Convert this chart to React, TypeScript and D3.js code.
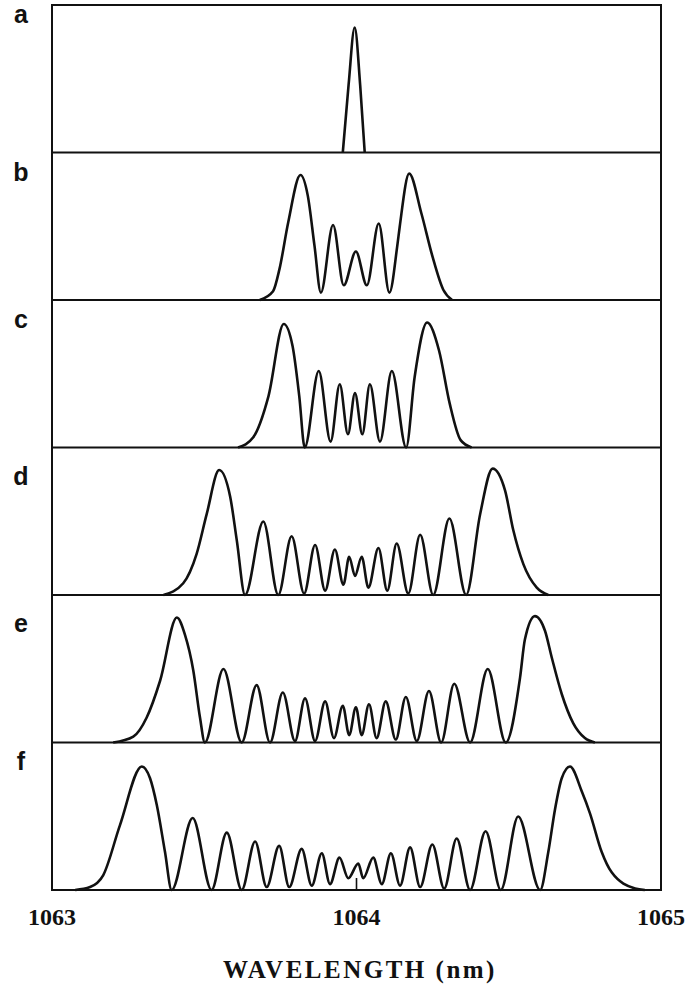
import React from "react";
import * as d3 from "d3";

// ---------- DATA (wavelength in nm, relative intensity 0..1) ----------
const X_TICKS = [1063, 1064, 1065];
const X_DOMAIN: [number, number] = [1063, 1065];
const PANEL_LABELS = ["a", "b", "c", "d", "e", "f"];
const AXIS_TITLE = "WAVELENGTH (nm)";

const spectrumA: [number, number][] = [
  [1063.955, 0], [1063.974, 0.46], [1063.994, 0.85], [1064.012, 0.46], [1064.027, 0],
];

const spectrumB: [number, number][] = [
  [1063.682, 0], [1063.726, 0.06], [1063.747, 0.21], [1063.776, 0.53], [1063.816, 0.85],
  [1063.840, 0.71], [1063.862, 0.37], [1063.883, 0.05], [1063.923, 0.51], [1063.958, 0.10],
  [1063.998, 0.33], [1064.034, 0.10], [1064.073, 0.52], [1064.108, 0.05], [1064.134, 0.37],
  [1064.142, 0.50], [1064.173, 0.86], [1064.213, 0.59], [1064.249, 0.30], [1064.285, 0.07],
  [1064.314, 0],
];

const spectrumC: [number, number][] = [
  [1063.611, 0], [1063.661, 0.07], [1063.711, 0.35], [1063.761, 0.84], [1063.790, 0.69],
  [1063.812, 0.35], [1063.830, 0], [1063.876, 0.52], [1063.915, 0.04], [1063.945, 0.43],
  [1063.972, 0.09], [1063.995, 0.37], [1064.019, 0.09], [1064.044, 0.43], [1064.077, 0.04],
  [1064.116, 0.52], [1064.163, 0], [1064.191, 0.48], [1064.232, 0.85], [1064.271, 0.66],
  [1064.306, 0.30], [1064.342, 0.05], [1064.378, 0],
];

const spectrumD: [number, number][] = [
  [1063.366, 0], [1063.431, 0.08], [1063.475, 0.28], [1063.508, 0.55], [1063.549, 0.85],
  [1063.585, 0.67], [1063.607, 0.37], [1063.634, 0], [1063.694, 0.50], [1063.743, 0],
  [1063.787, 0.40], [1063.828, 0.01], [1063.864, 0.34], [1063.897, 0.03], [1063.929, 0.31],
  [1063.957, 0.07], [1063.976, 0.26], [1063.995, 0.13], [1064.017, 0.26], [1064.039, 0.05],
  [1064.072, 0.32], [1064.101, 0.03], [1064.132, 0.35], [1064.170, 0.01], [1064.209, 0.41],
  [1064.252, 0], [1064.305, 0.52], [1064.360, 0], [1064.406, 0.55], [1064.447, 0.86],
  [1064.488, 0.71], [1064.515, 0.44], [1064.548, 0.21], [1064.592, 0.05], [1064.630, 0],
];

const spectrumE: [number, number][] = [
  [1063.201, 0], [1063.267, 0.04], [1063.311, 0.17], [1063.355, 0.42], [1063.410, 0.85],
  [1063.437, 0.73], [1063.464, 0.49], [1063.486, 0.17], [1063.502, 0], [1063.563, 0.50],
  [1063.623, 0], [1063.672, 0.39], [1063.716, 0], [1063.758, 0.34], [1063.798, 0.01],
  [1063.831, 0.30], [1063.864, 0.01], [1063.897, 0.28], [1063.926, 0.03], [1063.955, 0.25],
  [1063.976, 0.05], [1063.998, 0.24], [1064.017, 0.05], [1064.041, 0.26], [1064.066, 0.03],
  [1064.096, 0.28], [1064.129, 0.02], [1064.162, 0.31], [1064.198, 0.01], [1064.238, 0.35],
  [1064.278, 0], [1064.321, 0.40], [1064.373, 0], [1064.431, 0.50], [1064.490, 0],
  [1064.537, 0.44], [1064.553, 0.70], [1064.586, 0.86], [1064.619, 0.76], [1064.641, 0.58],
  [1064.674, 0.33], [1064.712, 0.13], [1064.750, 0.03], [1064.783, 0],
];

const spectrumF: [number, number][] = [
  [1063.076, 0], [1063.125, 0.02], [1063.168, 0.10], [1063.223, 0.44], [1063.295, 0.84],
  [1063.322, 0.76], [1063.344, 0.58], [1063.371, 0.26], [1063.393, 0], [1063.462, 0.49],
  [1063.524, 0], [1063.574, 0.39], [1063.623, 0], [1063.667, 0.33], [1063.705, 0.02],
  [1063.746, 0.30], [1063.779, 0.02], [1063.820, 0.28], [1063.853, 0.03], [1063.886, 0.25],
  [1063.913, 0.04], [1063.944, 0.22], [1063.973, 0.08], [1064.006, 0.18], [1064.022, 0.08],
  [1064.055, 0.22], [1064.083, 0.04], [1064.113, 0.25], [1064.143, 0.03], [1064.176, 0.29],
  [1064.209, 0.02], [1064.249, 0.31], [1064.288, 0.01], [1064.329, 0.35], [1064.373, 0],
  [1064.424, 0.40], [1064.474, 0], [1064.531, 0.50], [1064.603, 0], [1064.630, 0.26],
  [1064.652, 0.55], [1064.674, 0.76], [1064.701, 0.84], [1064.740, 0.67], [1064.767, 0.52],
  [1064.805, 0.26], [1064.838, 0.12], [1064.915, 0.01], [1064.947, 0],
];

const SPECTRA = [spectrumA, spectrumB, spectrumC, spectrumD, spectrumE, spectrumF];

// ---------- LAYOUT ----------
const W = 685;
const H = 988;
const LEFT = 52;
const RIGHT = 661;
const TOP = 5;
const PANEL_H = 147.5;
const LABEL_BASELINE = [18, 28, 28, 37, 37, 27];

export default function App() {
  const x = d3.scaleLinear().domain(X_DOMAIN).range([LEFT, RIGHT]);
  const bottom = TOP + PANEL_H * SPECTRA.length;

  return (
    <svg
      width={W}
      height={H}
      style={{ position: "absolute", left: 0, top: 0, background: "#fff" }}
    >
      <rect x={0} y={0} width={W} height={H} fill="#fff" />
      {SPECTRA.map((data, i) => {
        const pTop = TOP + i * PANEL_H;
        const pBot = pTop + PANEL_H;
        const y = d3.scaleLinear().domain([0, 1]).range([pBot, pBot - 147]);
        const line = d3
          .line<[number, number]>()
          .x((d) => x(d[0]))
          .y((d) => y(d[1]))
          .curve(d3.curveMonotoneX);
        return (
          <g key={i}>
            <path
              d={line(data) || ""}
              fill="none"
              stroke="#111"
              strokeWidth={2.6}
              strokeLinejoin="round"
            />
            <text
              x={21}
              y={pTop + LABEL_BASELINE[i]}
              textAnchor="middle"
              fontFamily="'Liberation Sans', Arial, sans-serif"
              fontWeight="bold"
              fontSize={25}
              fill="#111"
            >
              {PANEL_LABELS[i]}
            </text>
            {i > 0 && (
              <line x1={LEFT} x2={RIGHT} y1={pTop} y2={pTop} stroke="#111" strokeWidth={2} />
            )}
          </g>
        );
      })}
      <rect
        x={LEFT}
        y={TOP}
        width={RIGHT - LEFT}
        height={bottom - TOP}
        fill="none"
        stroke="#111"
        strokeWidth={2}
      />
      {/* inner tick at 1064 */}
      <line x1={x(1064)} x2={x(1064)} y1={bottom} y2={bottom - 12} stroke="#111" strokeWidth={1.6} />
      {X_TICKS.map((t) => (
        <text
          key={t}
          x={x(t)}
          y={925}
          textAnchor="middle"
          fontFamily="'Liberation Serif', 'Times New Roman', serif"
          fontWeight="bold"
          fontSize={24}
          fill="#111"
        >
          {t}
        </text>
      ))}
      <text
        x={360}
        y={978}
        textAnchor="middle"
        fontFamily="'Liberation Serif', 'Times New Roman', serif"
        fontWeight="bold"
        fontSize={25}
        letterSpacing={2.5}
        fill="#111"
      >
        {AXIS_TITLE}
      </text>
    </svg>
  );
}
